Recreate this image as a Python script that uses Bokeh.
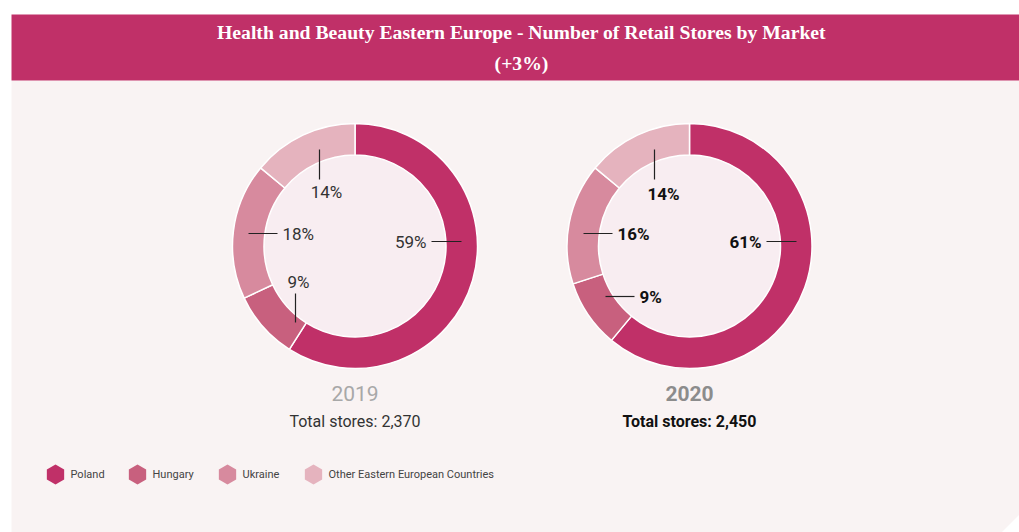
import numpy as np
from bokeh.plotting import figure
from bokeh.models import Range1d, ColumnDataSource
from bokeh.core.properties import value
from bokeh.embed import file_html
from bokeh.resources import INLINE

# ---------------- data ----------------
markets = ["Poland", "Hungary", "Ukraine", "Other Eastern European Countries"]
years = ["2019", "2020"]
share_2019 = [59, 9, 18, 14]
share_2020 = [61, 9, 16, 14]
totals = [2370, 2450]
title_line1 = "Health and Beauty Eastern Europe - Number of Retail Stores by Market"
title_line2 = "(+3%)"

# ---------------- style / layout ----------------
colors = ["#c03068", "#c8607e", "#d78a9e", "#e5b3be"]
bar_color = "#c03068"
panel_color = "#f9f3f3"
inner_color = "#f8edf1"
label_font = "Roboto"
title_font = "Liberation Serif"

W, H = 1019, 532
def Y(s):  # screen y -> data y
    return H - s

p = figure(width=W, height=H, x_range=Range1d(0, W), y_range=Range1d(0, H),
           output_backend="svg", toolbar_location=None, min_border=0)
p.axis.visible = False
p.grid.visible = False
p.outline_line_color = None
p.background_fill_color = "white"
p.border_fill_color = "white"

# background panel and title bar
p.patch(x=[11, 1019, 1019, 1001, 11], y=[Y(80), Y(80), Y(514), Y(532), Y(532)],
        color=panel_color, line_color=None)
p.quad(left=[11], right=[1019], bottom=[Y(80)], top=[Y(14)], color=bar_color, line_color=None)
p.text(x=[521, 521], y=[Y(31), Y(62)], text=[title_line1, title_line2],
       text_font=value(title_font), text_font_style="bold", text_font_size="19.7px",
       text_color="white", text_align="center", text_baseline="middle")

centers = [(354.5, Y(245.5)), (689, Y(245.5))]
r_out, r_in = 122.5, 91
shares = [share_2019, share_2020]

# label layout offsets (screen px relative to centre): text x, text y, align, line x0,y0,x1,y1
label_layout = [
    [(71.5, -4.5, "right", 76.5, -4.5, 106.5, -4.5),
     (-56.5, 35.5, "center", -59.5, 47.5, -59.5, 76.5),
     (-72.5, -12.5, "left", -106.5, -12.5, -77.5, -12.5),
     (-28.5, -54.5, "center", -35.5, -96.5, -35.5, -66.5)],
    [(72, -4.5, "right", 77, -4.5, 107, -4.5),
     (-50, 50.5, "left", -84, 50.5, -55, 50.5),
     (-72, -12.5, "left", -106, -12.5, -77, -12.5),
     (-26, -52.5, "center", -35, -96.5, -35, -66.5)],
]

for i, (cx, cy) in enumerate(centers):
    vals = np.array(shares[i], dtype=float)
    frac = vals / vals.sum()
    cum = np.concatenate([[0], np.cumsum(frac)])
    start = np.pi / 2 - cum[:-1] * 2 * np.pi
    end = np.pi / 2 - cum[1:] * 2 * np.pi
    p.circle(x=[cx], y=[cy], radius=r_in, color=inner_color, line_color=None)
    src = ColumnDataSource(dict(x=[cx] * 4, y=[cy] * 4, start=start, end=end, color=colors))
    p.annular_wedge(x="x", y="y", inner_radius=r_in, outer_radius=r_out,
                    start_angle="start", end_angle="end", direction="clock",
                    color="color", line_color="white", line_width=1.5, source=src)
    bold = "bold" if i == 1 else "normal"
    tcol = "#111111" if i == 1 else "#333333"
    for k in range(4):
        tx, ty, al, x0, y0, x1, y1 = label_layout[i][k]
        p.segment(x0=[cx + x0], y0=[cy - y0], x1=[cx + x1], y1=[cy - y1],
                  line_color="#222222", line_width=1.2)
        p.text(x=[cx + tx], y=[cy - ty], text=[f"{shares[i][k]}%"],
               text_font=value(label_font), text_font_style=bold, text_font_size="17px",
               text_color=tcol, text_align=al, text_baseline="middle")
    ycol = "#8c8c8c" if i == 1 else "#a8a8a8"
    p.text(x=[cx], y=[Y(393)], text=[years[i]], text_font=value(label_font),
           text_font_style=bold, text_font_size="21px", text_color=ycol,
           text_align="center", text_baseline="middle")
    p.text(x=[cx], y=[Y(421)], text=[f"Total stores: {totals[i]:,}"], text_font=value(label_font),
           text_font_style=bold, text_font_size="16px", text_color=tcol,
           text_align="center", text_baseline="middle")

# legend
leg_x = [55, 137, 227, 313]
p.scatter(x=leg_x, y=[Y(474)] * 4, marker="hex", size=20, angle=np.pi / 6,
          color=colors, line_color=None)
p.text(x=[x + 15 for x in leg_x], y=[Y(474)] * 4, text=markets,
       text_font=value(label_font), text_font_size="11px", text_color="#444444",
       text_align="left", text_baseline="middle")

open("out.html", "w").write(file_html(p, INLINE))
